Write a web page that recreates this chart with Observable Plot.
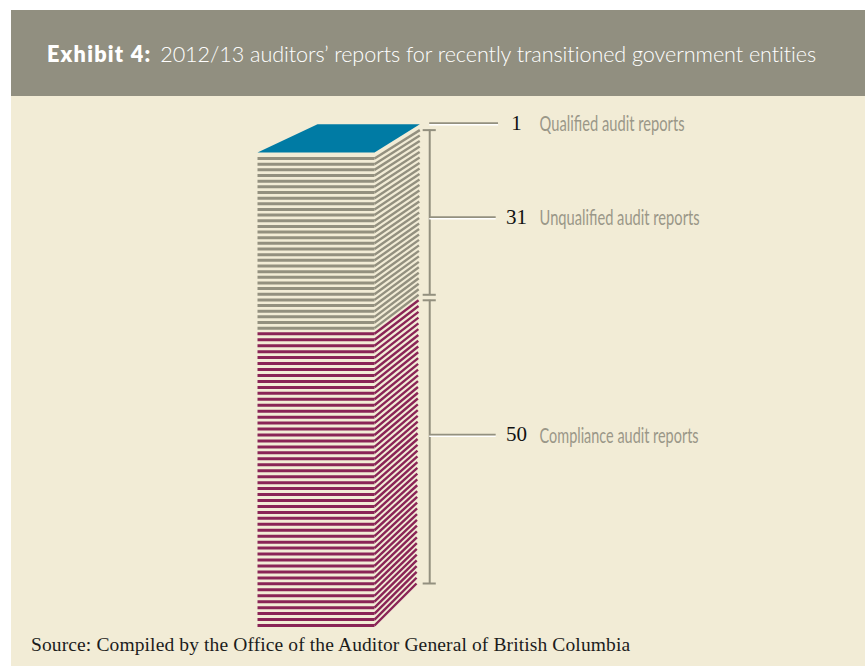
<!DOCTYPE html>
<html>
<head>
<meta charset="utf-8">
<script src="https://cdn.jsdelivr.net/npm/d3@7"></script>
<script src="https://cdn.jsdelivr.net/npm/@observablehq/plot@0.6"></script>
<style>
  html, body { margin: 0; padding: 0; background: #fff; overflow: hidden; }
  #page { margin: 10px 0 0 11px; width: 854px; background: #f2ecd6; }
  #title {
    height: 86px; background: #918f80; color: #fff;
    padding-left: 36px; font: 300 21.6px/89px Lato, sans-serif; letter-spacing: -0.07px;
    white-space: nowrap; box-sizing: border-box;
  }
  #title b { font-weight: 800; letter-spacing: 1.25px; margin-right: 3px; }
  #chart svg { display: block; }
  #source {
    height: 36px; padding-left: 20px; color: #1c1c1c;
    font: 19.5px/30px "Liberation Serif", serif; letter-spacing: 0.12px; white-space: nowrap;
  }
</style>
</head>
<body>
<div id="page">
  <div id="title"><b>Exhibit 4:</b> 2012/13 auditors’ reports for recently transitioned government entities</div>
  <div id="chart"></div>
  <div id="source">Source: Compiled by the Office of the Auditor General of British Columbia</div>
</div>
<script>
// Reports per audit outcome, listed from the top of the stack down.
const categories = ["Qualified audit reports", "Unqualified audit reports", "Compliance audit reports"];
const counts = [1, 31, 50];
const colors = ["#007ba4", "#93907f", "#8a2456"];

// The stack is drawn in perspective: the front edge of each sheet spans x 0..1,
// the receding edge climbs to a slightly tighter column behind it.
const backRise = 7.28, backScale = 0.971;
const backLevel = (level) => backRise + backScale * level;
const backX = (level) => 1.359 + 0.00035 * level;
const stackTop = d3.sum(counts);

// Sheets are compressed a little differently in the two striped blocks.
const gauge = {[categories[2]]: 1.032, [categories[1]]: 0.98};

const sheets = [];
let level = 0;
for (let i = 0; i < counts[2]; ++i) {
  sheets.push({id: sheets.length, category: categories[2], level});
  if (i < counts[2] - 1) level += gauge[categories[2]];
}
const complianceTop = level;
for (let i = 0; i < counts[1]; ++i) {
  level += gauge[categories[1]];
  sheets.push({id: sheets.length, category: categories[1], level});
}
const unqualifiedTop = level;

// Front edges and receding side edges of every sheet.
const fronts = sheets.flatMap((s) => [
  {id: s.id, category: s.category, x: 0, y: s.level},
  {id: s.id, category: s.category, x: 1, y: s.level}
]);
const sides = sheets.flatMap((s) => [
  {id: s.id, category: s.category, x: 1, y: s.level},
  {id: s.id, category: s.category, x: backX(s.level), y: backLevel(s.level)}
]);

// The single qualified report is the coloured top face of the stack.
const topFace = [
  {x: 0, y: stackTop},
  {x: 1, y: stackTop},
  {x: backX(stackTop), y: backLevel(stackTop)},
  {x: 0.513, y: backLevel(stackTop)}
];

// Brackets beside the stack and the leader lines running out to each label.
const bracketX = 1.472, capHalf = 0.056;
const brackets = [
  {y1: backLevel(complianceTop + gauge[categories[1]]), y2: backLevel(unqualifiedTop)},
  {y1: backLevel(0), y2: backLevel(complianceTop)}
];
const caps = brackets.flatMap((b) => [b.y1, b.y2]);
const leaderLevels = [87.08, 70.8, 33.1];
const leaderEnds = [2.06, 2.04, 2.04];
const labelWidths = [145, 160, 159];
const rows = categories.map((category, i) => ({
  category, count: counts[i], y: leaderLevels[i], x2: leaderEnds[i]
}));

const leaderColor = "#93907f";
const stripeMarks = (category, color) => [
  Plot.line(fronts.filter((d) => d.category === category), {
    x: "x", y: "y", z: "id", stroke: color, strokeWidth: 3, strokeLinecap: "butt", curve: "linear"
  }),
  Plot.line(sides.filter((d) => d.category === category), {
    x: "x", y: "y", z: "id", stroke: color, strokeWidth: 2.4, strokeLinecap: "butt", curve: "linear"
  })
];

const plot = Plot.plot({
  width: 854,
  height: 534,
  margin: 0,
  style: {background: "#f2ecd6"},
  x: {domain: [0, 1], range: [246, 363], axis: null},
  y: {domain: [0, 82], range: [529, 56], axis: null},
  marks: [
    stripeMarks(categories[1], colors[1]),
    stripeMarks(categories[2], colors[2]),
    Plot.line(topFace, {x: "x", y: "y", fill: colors[0], stroke: "none"}),
    Plot.ruleX(brackets, {x: () => bracketX, y1: "y1", y2: "y2", stroke: leaderColor, strokeWidth: 2}),
    Plot.ruleY(caps, {y: (d) => d, x1: bracketX - capHalf, x2: bracketX + capHalf, stroke: leaderColor, strokeWidth: 2}),
    Plot.ruleY(rows, {y: "y", x1: bracketX, x2: "x2", stroke: "#fff", strokeWidth: 1.6, dy: 1.6}),
    Plot.ruleY(rows, {y: "y", x1: bracketX, x2: "x2", stroke: leaderColor, strokeWidth: 1.8}),
    Plot.text(rows, {
      x: () => 2.214, y: "y", text: (d) => String(d.count),
      fontFamily: "Liberation Serif", fontSize: 21, fill: "#111", textAnchor: "middle"
    }),
    Plot.text(rows, {
      x: () => 2.411, y: "y", text: "category", className: "report-label",
      fontFamily: "Lato", fontSize: 22, fill: "#9a9788", textAnchor: "start", dy: 1
    })
  ]
});

// The labels are set in a condensed cut, so squeeze each one to its measure.
plot.querySelectorAll(".report-label text").forEach((node, i) => {
  node.setAttribute("textLength", labelWidths[i]);
  node.setAttribute("lengthAdjust", "spacingAndGlyphs");
});
document.getElementById("chart").append(plot);
</script>
</body>
</html>
